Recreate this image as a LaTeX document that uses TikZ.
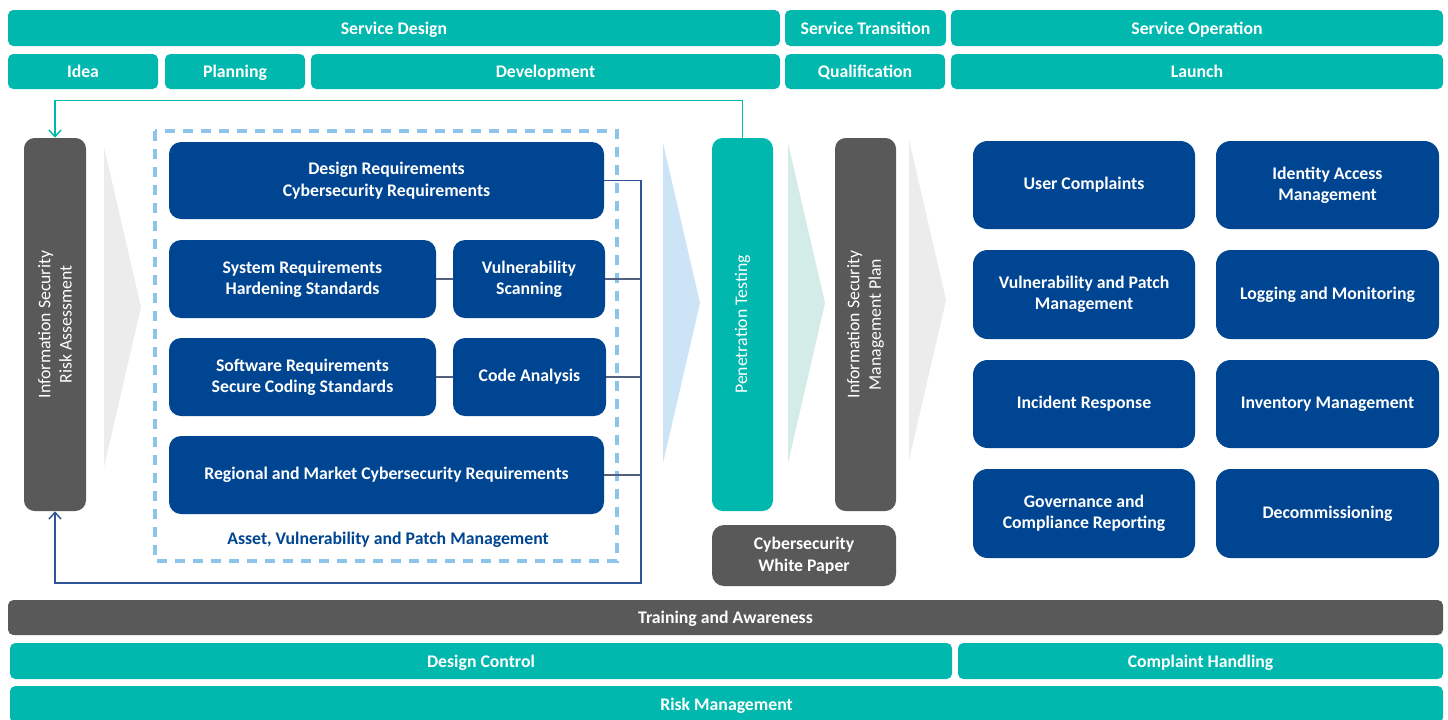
\documentclass[tikz,border=0pt]{standalone}
\usepackage{fontspec}
\setmainfont{Carlito}
\usetikzlibrary{arrows.meta}

\definecolor{tealbar}{RGB}{0,184,174}
\definecolor{navybox}{RGB}{0,69,145}
\definecolor{darkgrey}{RGB}{89,89,89}
\definecolor{dashblue}{RGB}{141,196,234}
\definecolor{lineblue}{RGB}{47,85,151}
\definecolor{stubgrey}{RGB}{80,96,125}
\definecolor{chevgrey}{RGB}{236,236,236}
\definecolor{chevblue}{RGB}{205,228,246}
\definecolor{chevteal}{RGB}{212,236,232}

\tikzset{
  sz/.style 2 args={minimum width=#1*0.75pt, minimum height=#2*0.75pt},
  bar/.style={fill=tealbar, rounded corners=4pt, text=white, inner sep=0pt,
    text height=9pt, text depth=0pt,
    font=\bfseries\fontsize{13.3}{16}\selectfont},
  greybar/.style={bar, fill=darkgrey},
  bluebox/.style={fill=navybox, rounded corners=9pt, text=white, align=center,
    inner sep=0pt, font=\bfseries\fontsize{13.3}{16}\selectfont},
  pillar/.style={fill=darkgrey, rounded corners=8pt, text=white, align=center,
    inner sep=0pt, rotate=90, font=\fontsize{13.3}{16}\selectfont},
  busline/.style={draw=lineblue, line width=1.1pt},
  stubline/.style={draw=stubgrey, line width=1.1pt},
  loopline/.style={draw=tealbar, line width=1.1pt},
}

\begin{document}
\begin{tikzpicture}[x=0.75pt,y=0.75pt,yscale=-1,xscale=1,
  >={Straight Barb[length=5pt,width=9pt]}]
\path[fill=white, use as bounding box] (0,0) rectangle (1448,719);

%Phase bars
\node[bar, sz={772}{36}] (sdesign) at (394,28) {Service Design};
\node[bar, sz={161}{36}] (stransition) at (865.5,28) {Service Transition};
\node[bar, sz={492}{36}] (soperation) at (1197,28) {Service Operation};
\node[bar, sz={150}{35}] (idea) at (83,71.5) {Idea};
\node[bar, sz={140}{35}] (planning) at (235,71.5) {Planning};
\node[bar, sz={469}{35}] (development) at (545.5,71.5) {Development};
\node[bar, sz={160}{35}] (qualification) at (865,71.5) {Qualification};
\node[bar, sz={492}{35}] (launch) at (1197,71.5) {Launch};

%Chevrons
\fill[chevgrey] (104,147) -- (141,307) -- (104,467) -- cycle;
\fill[chevblue] (663,143) -- (700,303) -- (663,463) -- cycle;
\fill[chevteal] (788,143) -- (825,303) -- (788,463) -- cycle;
\fill[chevgrey] (909,140) -- (946,300) -- (909,460) -- cycle;

%Pillars (rotated: east is the top end, west the bottom end)
\node[pillar, sz={373}{62}] (riskassess) at (55,324.5) {Information Security\\Risk Assessment};
\node[pillar, sz={373}{61}, fill=tealbar] (pentest) at (742.5,324.5) {Penetration Testing};
\node[pillar, sz={373}{61}] (ismp) at (865.5,324.5) {Information Security\\Management Plan};
\node[bluebox, fill=darkgrey, sz={184}{61}] (whitepaper) at (804,555.5) {Cybersecurity\\White Paper};

%Development block
\draw[dashblue, line width=2.4pt, dash pattern=on 7.5pt off 6pt] (155,131) rectangle (617,561);
\node[bluebox, sz={435}{77}] (designreq) at (386.5,180.5) {Design Requirements\\Cybersecurity Requirements};
\node[bluebox, sz={267}{78}] (sysreq) at (302.5,279) {System Requirements\\Hardening Standards};
\node[bluebox, sz={152}{78}] (vulnscan) at (529,279) {Vulnerability\\Scanning};
\node[bluebox, sz={267}{78}] (swreq) at (302.5,377) {Software Requirements\\Secure Coding Standards};
\node[bluebox, sz={153}{78}] (codeanalysis) at (529.5,377) {Code Analysis};
\node[bluebox, sz={435}{78}] (regional) at (386.5,475) {Regional and Market Cybersecurity Requirements};
\node[text=navybox, font=\bfseries\fontsize{13.3}{16}\selectfont] (assetlabel) at (388,540) {Asset, Vulnerability and Patch Management};

%Connectors
\coordinate (bus) at (641,583);
\draw[stubline] (sysreq) -- (vulnscan);
\draw[stubline] (swreq) -- (codeanalysis);
\draw[stubline] (vulnscan.east) -- (vulnscan.east -| bus);
\draw[stubline] (codeanalysis.east) -- (codeanalysis.east -| bus);
\draw[stubline] (regional.east) -- (regional.east -| bus);
\draw[busline,->] (designreq.east) -| (bus) -| (riskassess.west);
\draw[loopline,->] (pentest.east) -- ++(0,-37) -| (riskassess.east);

%Operation boxes
\node[bluebox, sz={222}{88}, rounded corners=11pt] (complaints) at (1084,185) {User Complaints};
\node[bluebox, sz={223}{88}, rounded corners=11pt] (identity) at (1327.5,185) {Identity Access\\Management};
\node[bluebox, sz={222}{89}, rounded corners=11pt] (vulnpatch) at (1084,294.5) {Vulnerability and Patch\\Management};
\node[bluebox, sz={223}{89}, rounded corners=11pt] (logging) at (1327.5,294.5) {Logging and Monitoring};
\node[bluebox, sz={222}{88}, rounded corners=11pt] (incident) at (1084,404) {Incident Response};
\node[bluebox, sz={223}{88}, rounded corners=11pt] (inventory) at (1327.5,404) {Inventory Management};
\node[bluebox, sz={222}{89}, rounded corners=11pt] (governance) at (1084,513.5) {Governance and\\Compliance Reporting};
\node[bluebox, sz={223}{89}, rounded corners=11pt] (decommission) at (1327.5,513.5) {Decommissioning};

%Process bars
\node[greybar, sz={1435}{35}] (training) at (725.5,617.5) {Training and Awareness};
\node[bar, sz={942}{36}] (designctrl) at (481,661) {Design Control};
\node[bar, sz={485}{36}] (complainthandling) at (1200.5,661) {Complaint Handling};
\node[bar, sz={1433}{37}] (riskmgmt) at (726.5,704.5) {Risk Management};
\end{tikzpicture}
\end{document}
